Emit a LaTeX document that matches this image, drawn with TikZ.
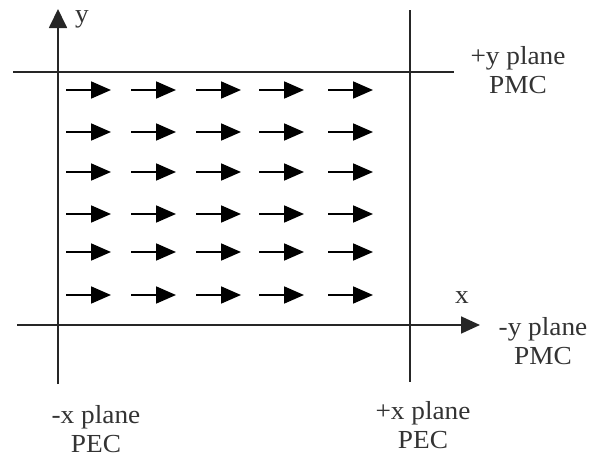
\documentclass[tikz,border=0pt]{standalone}
\usepackage{fontspec}
\setmainfont{Liberation Serif}
\usetikzlibrary{arrows.meta}
\begin{document}
\begin{tikzpicture}[x=1pt,y=-1pt,
  axis/.style={line width=1.8pt,draw=black!85},
  field/.style={line width=1.8pt,-{Triangle[length=20pt,width=17pt]}},
  lbl/.style={font=\fontsize{26}{29}\selectfont,text=black!80,inner sep=0pt,align=center,xscale=1.05}]
\useasboundingbox (0,0) rectangle (598,458);
% axes and planes
\coordinate (ybot) at (58,384);
\coordinate (ytop) at (58,9);
\coordinate (xl) at (17,325);
\coordinate (xr) at (480,325);
\coordinate (tl) at (13,72);
\coordinate (tr) at (454,72);
\coordinate (rt) at (410,10);
\coordinate (rb) at (410,382);
\draw[axis,-{Triangle[length=19pt,width=18pt]}] (ybot) -- (ytop);
\draw[axis,-{Triangle[length=19pt,width=17pt]}] (xl) -- (xr);
\draw[axis] (tl) -- (tr);
\draw[axis] (rt) -- (rb);
% field arrows
\foreach \r/\yy in {1/90,2/132,3/172,4/214,5/252,6/295}{
  \foreach \c/\xx in {1/66,2/131,3/196,4/259,5/328}{
    \coordinate (a\r\c) at (\xx,\yy);
    \coordinate (b\r\c) at (\xx+45,\yy);
    \draw[field] (a\r\c) -- (b\r\c);
  }
}
% labels
\node[lbl] (ylab) at (82,19) {y};
\node[lbl] (xlab) at (462,298) {x};
\node[lbl] (typ) at (518,70) {+y plane\\PMC};
\node[lbl] (byp) at (543,341) {-y plane\\PMC};
\node[lbl] (lxp) at (96,429) {-x plane\\PEC};
\node[lbl] (rxp) at (423,425) {+x plane\\PEC};
\end{tikzpicture}
\end{document}
